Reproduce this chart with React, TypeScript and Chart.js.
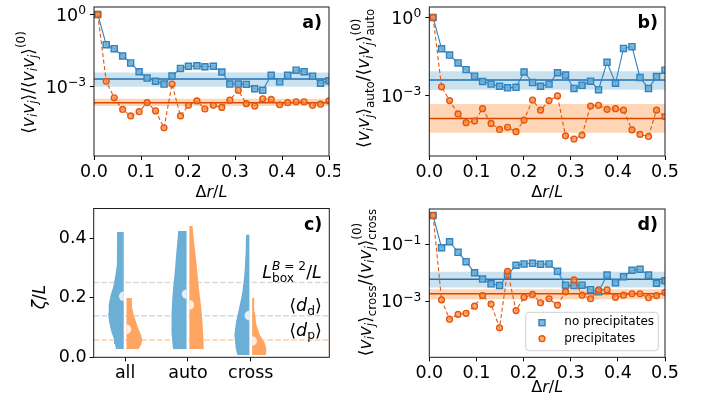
import React, { useEffect, useRef } from "react";
import { Chart, registerables } from "chart.js";
Chart.register(...registerables);

// ---------------- data ----------------
const DR = [0.008, 0.026, 0.043, 0.061, 0.078, 0.096, 0.113, 0.131, 0.149, 0.166, 0.184, 0.201, 0.219, 0.236, 0.254, 0.272, 0.289, 0.307, 0.324, 0.342, 0.359, 0.377, 0.395, 0.412, 0.43, 0.447, 0.465, 0.482, 0.5];
const X_TICKS = [0, 0.1, 0.2, 0.3, 0.4, 0.5];

const A_NOPREC = [1, 5.6e-2, 3.8e-2, 1.9e-2, 9.8e-3, 4.2e-3, 2.3e-3, 1.7e-3, 1.3e-3, 2.8e-3, 5.8e-3, 7.1e-3, 7.4e-3, 6.8e-3, 7.1e-3, 4.1e-3, 1.3e-3, 1.3e-3, 1.26e-3, 8.3e-4, 7.2e-4, 3.0e-3, 1.6e-3, 3.0e-3, 4.9e-3, 4.2e-3, 2.75e-3, 1.4e-3, 1.8e-3];
const A_PREC = [1, 1.7e-3, 3.5e-4, 1.15e-4, 6.2e-5, 9.3e-5, 2.2e-4, 1.0e-4, 2.0e-5, 1.3e-3, 6.2e-5, 1.7e-4, 2.6e-4, 1.2e-4, 1.7e-4, 1.4e-4, 2.8e-4, 7.2e-4, 2.0e-4, 1.6e-4, 3.2e-4, 3.0e-4, 1.8e-4, 2.2e-4, 2.4e-4, 2.4e-4, 1.7e-4, 1.9e-4, 2.6e-4];
const A_NOPREC_BAND = [1.0e-3, 2.1e-3, 3.9e-3]; // low, mean, high
const A_PREC_BAND = [1.6e-4, 2.2e-4, 3.2e-4];
const A_Y_RANGE = [1.35e-6, 2.04];
const A_Y_TICKS = [1, 1e-3];
const A_Y_EXP = ["0", "\u22123"];

const B_NOPREC = [1, 6.3e-2, 3.6e-2, 1.8e-2, 1.0e-2, 5.6e-3, 3.5e-3, 2.8e-3, 2.3e-3, 2.0e-3, 2.1e-3, 8.1e-3, 3.2e-3, 2.3e-3, 2.8e-3, 7.6e-3, 6.2e-3, 1.9e-3, 2.5e-3, 3.6e-3, 1.7e-3, 1.9e-2, 3.0e-3, 6.5e-2, 7.6e-2, 5.0e-3, 1.9e-3, 5.4e-3, 9.5e-3];
const B_PREC = [1, 2.2e-3, 6.5e-4, 2.0e-4, 9.3e-5, 1.07e-4, 3.2e-4, 8.7e-5, 5.1e-5, 6.2e-5, 4.2e-5, 1.17e-4, 6.8e-4, 2.8e-4, 6.5e-4, 9.8e-4, 2.9e-5, 2.2e-5, 3.1e-5, 4.0e-4, 4.3e-4, 3.0e-4, 3.2e-4, 2.8e-4, 4.9e-5, 3.3e-5, 2.75e-5, 2.8e-4, 1.6e-4];
const B_NOPREC_BAND = [1.7e-3, 4.0e-3, 8.7e-3];
const B_PREC_BAND = [3.8e-5, 1.35e-4, 4.8e-4];
const B_Y_RANGE = [4.9e-6, 2.51];
const B_Y_TICKS = [1, 1e-3];
const B_Y_EXP = ["0", "\u22123"];

const D_NOPREC = [1, 7.4e-2, 1.2e-1, 5.1e-2, 2.4e-2, 9.8e-3, 5.9e-3, 4.0e-3, 3.5e-3, 8.1e-3, 1.8e-2, 2.0e-2, 2.1e-2, 1.95e-2, 2.0e-2, 1.1e-2, 3.6e-3, 3.5e-3, 3.6e-3, 2.5e-3, 2.1e-3, 8.1e-3, 4.4e-3, 7.1e-3, 1.2e-2, 1.3e-2, 8.1e-3, 4.2e-3, 5.1e-3];
const D_PREC = [1, 1.1e-3, 2.3e-4, 3.4e-4, 3.7e-4, 6.6e-4, 1.55e-3, 7.8e-4, 1.15e-4, 1.1e-2, 4.6e-4, 1.35e-3, 1.7e-3, 8.7e-4, 1.2e-3, 7.2e-4, 2.1e-3, 5.5e-3, 1.6e-3, 1.2e-3, 2.45e-3, 2.45e-3, 1.35e-3, 1.6e-3, 1.8e-3, 1.8e-3, 1.3e-3, 1.55e-3, 2.0e-3];
const D_NOPREC_BAND = [3.0e-3, 5.8e-3, 1.07e-2];
const D_PREC_BAND = [1.15e-3, 1.8e-3, 2.6e-3];
const D_Y_RANGE = [1.06e-5, 1.69];
const D_Y_TICKS = [1e-1, 1e-3];
const D_Y_EXP = ["\u22121", "\u22123"];

// violin panel (c)
const CATS = ["all", "auto", "cross"];
const C_X_RANGE = [-0.5, 3.25];
const C_Y_TICKS = [0, 0.2, 0.4];
const V_ALL_NOP_Y = [0.027, 0.045, 0.06, 0.085, 0.12, 0.148, 0.176, 0.21, 0.24, 0.277, 0.31, 0.36, 0.422];
const V_ALL_NOP_W = [0.123, 0.14, 0.154, 0.196, 0.234, 0.25, 0.239, 0.207, 0.164, 0.132, 0.11, 0.107, 0.107];
const V_ALL_PRE_Y = [0.027, 0.045, 0.058, 0.075, 0.095, 0.12, 0.145, 0.17, 0.2];
const V_ALL_PRE_W = [0.191, 0.239, 0.25, 0.231, 0.191, 0.151, 0.111, 0.088, 0.084];
const V_AUTO_NOP_Y = [0.027, 0.08, 0.15, 0.22, 0.28, 0.35, 0.425];
const V_AUTO_NOP_W = [0.215, 0.239, 0.239, 0.22, 0.191, 0.164, 0.132];
const V_AUTO_PRE_Y = [0.027, 0.05, 0.1, 0.16, 0.22, 0.27, 0.33, 0.38, 0.441];
const V_AUTO_PRE_W = [0.228, 0.228, 0.215, 0.194, 0.159, 0.135, 0.107, 0.08, 0.051];
const V_CROSS_NOP_Y = [0.008, 0.03, 0.075, 0.12, 0.165, 0.22, 0.277, 0.35, 0.413];
const V_CROSS_NOP_W = [0.191, 0.218, 0.239, 0.212, 0.164, 0.111, 0.08, 0.06, 0.053];
const V_CROSS_PRE_Y = [0.008, 0.025, 0.047, 0.075, 0.109, 0.153, 0.2];
const V_CROSS_PRE_W = [0.218, 0.228, 0.202, 0.123, 0.068, 0.043, 0.032];
const MEDIAN_NOP = [0.205, 0.212, 0.14];
const MEDIAN_PRE = [0.094, 0.176, 0.055];
const REF_LINES = [0.251, 0.14, 0.058]; // L_box, <d_d>, <d_p>

// ---------------- style ----------------
const FAM = '"DejaVu Sans"';
const TICK = 17.5;
const NONE = "rgba(0,0,0,0)";
const C_BLUE = "#3182bd";
const C_BLUE_FACE = "rgba(107,174,214,0.85)";
const C_BLUE_MEAN = "#2171b5";
const C_BLUE_BAND = "rgba(158,202,225,0.55)";
const C_OR = "#e6550d";
const C_OR_FACE = "rgba(253,141,60,0.7)";
const C_OR_MEAN = "#d94801";
const C_OR_BAND = "rgba(253,174,107,0.5)";
const C_VIO_BLUE = "#6baed6";
const C_VIO_OR = "#fda561";
const REF_COLORS = ["#d9d9d9", "#c6dbef", "#fdd0a2"];
const GAP = 0.022;

// ---------------- rich text ----------------
type Run = { t: string; it?: boolean; b?: boolean; s?: number; dy?: number };
type Item = Run | { stack: Run[][] };

function fnt(size: number, it?: boolean, b?: boolean) {
  return `${it ? "italic " : ""}${b ? "bold " : ""}${size}px ${FAM}`;
}
function measureItems(ctx: CanvasRenderingContext2D, items: Item[], size: number): number {
  let w = 0;
  for (const r of items) {
    if ("stack" in r) w += Math.max(...r.stack.map((rs) => measureItems(ctx, rs, size)));
    else {
      ctx.font = fnt(size * (r.s ?? 1), r.it, r.b);
      w += ctx.measureText(r.t).width;
    }
  }
  return w;
}
function drawItems(ctx: CanvasRenderingContext2D, items: Item[], x: number, y: number, size: number): number {
  let cx = x;
  for (const r of items) {
    if ("stack" in r) {
      cx += Math.max(...r.stack.map((rs) => drawItems(ctx, rs, cx, y, size)));
    } else {
      ctx.font = fnt(size * (r.s ?? 1), r.it, r.b);
      ctx.fillText(r.t, cx, y + (r.dy ?? 0) * size);
      cx += ctx.measureText(r.t).width;
    }
  }
  return cx - x;
}
function drawRich(ctx: CanvasRenderingContext2D, items: Item[], x: number, y: number, size: number, align: "left" | "center" | "right", rotate = false) {
  ctx.save();
  ctx.fillStyle = "#000";
  ctx.textAlign = "left";
  ctx.textBaseline = "alphabetic";
  ctx.translate(x, y);
  if (rotate) ctx.rotate(-Math.PI / 2);
  const w = measureItems(ctx, items, size);
  const x0 = align === "center" ? -w / 2 : align === "right" ? -w : 0;
  drawItems(ctx, items, x0, 0, size);
  ctx.restore();
}

const VIVJ: Item[] = [
  { t: "\u27e8" },
  { t: "v", it: true },
  { t: "i", it: true, s: 0.7, dy: 0.2 },
  { t: "v", it: true },
  { t: "j", it: true, s: 0.7, dy: 0.2 },
  { t: "\u27e9" },
];
const LABEL_A: Item[] = [...VIVJ, { t: "/" }, ...VIVJ, { t: "(0)", s: 0.7, dy: -0.5 }];
const mkLabel = (w: string): Item[] => [
  ...VIVJ,
  { t: w, s: 0.7, dy: 0.3 },
  { t: "/" },
  ...VIVJ,
  { stack: [[{ t: "(0)", s: 0.7, dy: -0.55 }], [{ t: w, s: 0.7, dy: 0.3 }]] },
];
const LABEL_B = mkLabel("auto");
const LABEL_D = mkLabel("cross");
const LABEL_C: Item[] = [{ t: "\u03b6", it: true }, { t: "/" }, { t: "L", it: true }];
const X_LABEL: Item[] = [{ t: "\u0394" }, { t: "r", it: true }, { t: "/" }, { t: "L", it: true }];
const ANN_LBOX: Item[] = [
  { t: "L", it: true },
  { stack: [[{ t: "B", it: true, s: 0.7, dy: -0.45 }, { t: " = 2", s: 0.7, dy: -0.45 }], [{ t: "box", s: 0.7, dy: 0.22 }]] },
  { t: "/" },
  { t: "L", it: true },
];
const ANN_DD: Item[] = [{ t: "\u27e8" }, { t: "d", it: true }, { t: "d", s: 0.7, dy: 0.2 }, { t: "\u27e9" }];
const ANN_DP: Item[] = [{ t: "\u27e8" }, { t: "d", it: true }, { t: "p", s: 0.7, dy: 0.2 }, { t: "\u27e9" }];

// ---------------- layout ----------------
type Area = { l: number; r: number; t: number; b: number };
type Box = { ox: number; oy: number; w: number; h: number };
const W = 707;
const H = 403;
const YW = 44; // width reserved for the y scale box (tick labels are clipped to it)
const XH = 30;
const BOX_A: Box = { ox: 0, oy: 0, w: 340, h: 203 };
const BOX_B: Box = { ox: 340, oy: 0, w: 367, h: 203 };
const BOX_C: Box = { ox: 0, oy: 203, w: 340, h: 200 };
const BOX_D: Box = { ox: 340, oy: 203, w: 367, h: 200 };
const padFor = (a: Area, p: Box) => ({ left: a.l - p.ox - YW, right: p.ox + p.w - a.r, top: a.t - p.oy, bottom: p.oy + p.h - a.b - XH });

const zeroPad = (s: any) => { s.paddingTop = 0; s.paddingBottom = 0; s.paddingLeft = 0; s.paddingRight = 0; };
const fitX = (s: any) => { s.height = XH; zeroPad(s); };
const fitY = (s: any) => { s.width = YW; zeroPad(s); };

const gridOpts = { drawOnChartArea: false, drawTicks: true, tickLength: 4, color: "#000", lineWidth: 1 };

function xScaleLinear() {
  return {
    type: "linear",
    min: X_TICKS[0],
    max: X_TICKS[X_TICKS.length - 1],
    afterFit: fitX,
    afterBuildTicks: (s: any) => { s.ticks = X_TICKS.map((v) => ({ value: v })); },
    grid: gridOpts,
    border: { display: false },
    ticks: { autoSkip: false, maxRotation: 0, padding: 2, color: "#000", font: { size: TICK, family: FAM }, callback: (v: any) => Number(v).toFixed(1) },
  };
}
function yScaleLog(range: number[], ticks: number[]) {
  return {
    type: "logarithmic",
    min: range[0],
    max: range[1],
    afterFit: fitY,
    afterBuildTicks: (s: any) => { s.ticks = ticks.map((v) => ({ value: v })); },
    grid: gridOpts,
    border: { display: false },
    ticks: { display: false },
  };
}

function seriesDatasets(nop: number[], pre: number[], nb: number[], pb: number[]) {
  const x0 = X_TICKS[0];
  const x1 = X_TICKS[X_TICKS.length - 1];
  return [
    { data: [{ x: x0, y: nb[2] }, { x: x1, y: nb[2] }], fill: { value: nb[0] }, backgroundColor: C_BLUE_BAND, borderColor: NONE, borderWidth: 0, pointRadius: 0, order: 10 },
    { data: [{ x: x0, y: pb[2] }, { x: x1, y: pb[2] }], fill: { value: pb[0] }, backgroundColor: C_OR_BAND, borderColor: NONE, borderWidth: 0, pointRadius: 0, order: 11 },
    { data: [{ x: x0, y: nb[1] }, { x: x1, y: nb[1] }], fill: false, backgroundColor: NONE, borderColor: C_BLUE_MEAN, borderWidth: 1.5, pointRadius: 0, order: 8 },
    { data: [{ x: x0, y: pb[1] }, { x: x1, y: pb[1] }], fill: false, backgroundColor: NONE, borderColor: C_OR_MEAN, borderWidth: 1.5, pointRadius: 0, order: 9 },
    {
      data: DR.map((x, i) => ({ x, y: nop[i] })), fill: false, backgroundColor: NONE, borderColor: C_BLUE, borderWidth: 1.1,
      pointStyle: "rect", pointRadius: 4.3, pointBackgroundColor: C_BLUE_FACE, pointBorderColor: C_BLUE, pointBorderWidth: 1.4, order: 2, clip: 0,
    },
    {
      data: DR.map((x, i) => ({ x, y: pre[i] })), fill: false, backgroundColor: NONE, borderColor: C_OR, borderWidth: 1.1, borderDash: [4, 2.5],
      pointStyle: "circle", pointRadius: 2.9, pointBackgroundColor: C_OR_FACE, pointBorderColor: C_OR, pointBorderWidth: 1.4, order: 1, clip: 0,
    },
  ];
}

function frame(chart: any) {
  const { ctx, chartArea: a } = chart;
  ctx.save();
  ctx.strokeStyle = "#1a1a1a";
  ctx.lineWidth = 1;
  ctx.strokeRect(a.left, a.top, a.right - a.left, a.bottom - a.top);
  ctx.restore();
}
function letter(chart: any, s: string) {
  const { ctx, chartArea: a } = chart;
  ctx.save();
  ctx.fillStyle = "#000";
  ctx.font = fnt(TICK, false, true);
  ctx.textAlign = "right";
  ctx.textBaseline = "alphabetic";
  ctx.fillText(s, a.right - 7, a.top + 21);
  ctx.restore();
}
function logTickLabels(chart: any, ticks: number[], exps: string[]) {
  const { ctx, chartArea: a } = chart;
  const y = chart.scales.y;
  ticks.forEach((v, i) => {
    const py = y.getPixelForValue(v);
    drawRich(ctx, [{ t: "10" }, { t: exps[i], s: 0.7, dy: -0.39 }], a.left - 8, py + 0.3645 * TICK, TICK, "right");
  });
}

// yPos / xLabelY are given in page coordinates and shifted into the panel's canvas
function decor(box: Box, opts: { letter: string; yLabel: Item[]; yPos: [number, number]; xLabelY?: number; log?: [number[], string[]]; extra?: (c: any) => void }) {
  return {
    id: "decor",
    beforeDatasetsDraw(chart: any) {
      const { ctx, chartArea: a } = chart;
      ctx.save();
      ctx.fillStyle = "#ffffff";
      ctx.fillRect(a.left, a.top, a.right - a.left, a.bottom - a.top);
      ctx.restore();
    },
    afterDraw(chart: any) {
      const { ctx, chartArea: a } = chart;
      if (opts.extra) opts.extra(chart);
      frame(chart);
      letter(chart, opts.letter);
      drawRich(ctx, opts.yLabel, opts.yPos[0] - box.ox, opts.yPos[1] - box.oy, 17, "center", true);
      if (opts.xLabelY !== undefined) drawRich(ctx, X_LABEL, (a.left + a.right) / 2, opts.xLabelY - box.oy, 16, "center");
      if (opts.log) logTickLabels(chart, opts.log[0], opts.log[1]);
    },
  };
}

function seriesChart(canvas: HTMLCanvasElement, box: Box, area: Area, nop: number[], pre: number[], nb: number[], pb: number[], range: number[], yt: number[], plugin: any) {
  return new Chart(canvas, {
    type: "line",
    data: { datasets: seriesDatasets(nop, pre, nb, pb) as any },
    options: {
      responsive: false,
      animation: false,
      devicePixelRatio: 1,
      events: [],
      layout: { padding: padFor(area, box) },
      plugins: { legend: { display: false }, tooltip: { enabled: false } },
      scales: { x: xScaleLinear() as any, y: yScaleLog(range, yt) as any },
    },
    plugins: [plugin],
  });
}

// half violin: outline points, filled horizontally to the category centre (indexAxis 'y')
function violin(center: number, side: number, ys: number[], ws: number[], color: string) {
  const x0 = center + side * GAP;
  return {
    data: ys.map((y, i) => ({ x: x0 + side * ws[i], y })),
    fill: { value: x0 },
    backgroundColor: color, borderColor: NONE, borderWidth: 0, pointRadius: 0, tension: 0, order: 5,
  };
}

function legendD(chart: any) {
  const { ctx } = chart;
  ctx.save();
  ctx.translate(-BOX_D.ox, -BOX_D.oy);
  const bx = 525.7, by = 312.3, bw = 132.6, bh = 38.4;
  ctx.beginPath();
  ctx.roundRect(bx, by, bw, bh, 3);
  ctx.fillStyle = "rgba(255,255,255,0.8)";
  ctx.fill();
  ctx.strokeStyle = "#d0d0d0";
  ctx.lineWidth = 1;
  ctx.stroke();
  ctx.fillStyle = C_BLUE_FACE;
  ctx.strokeStyle = C_BLUE;
  ctx.lineWidth = 1.4;
  ctx.fillRect(539, 319.7, 6, 6);
  ctx.strokeRect(539, 319.7, 6, 6);
  ctx.beginPath();
  ctx.arc(542, 338.7, 2.9, 0, Math.PI * 2);
  ctx.fillStyle = C_OR_FACE;
  ctx.fill();
  ctx.strokeStyle = C_OR;
  ctx.stroke();
  ctx.fillStyle = "#000";
  ctx.font = fnt(12);
  ctx.textAlign = "left";
  ctx.textBaseline = "alphabetic";
  ctx.fillText("no precipitates", 564.3, 324.8);
  ctx.fillText("precipitates", 564.3, 341.8);
  ctx.restore();
}

function violinExtras(chart: any) {
  const { ctx, chartArea: a } = chart;
  const xs = chart.scales.x;
  const ys = chart.scales.y;
  ctx.save();
  ctx.fillStyle = "rgba(255,255,255,0.8)";
  CATS.forEach((_, i) => {
    const xb = xs.getPixelForValue(i - GAP);
    const yb = ys.getPixelForValue(MEDIAN_NOP[i]);
    ctx.beginPath();
    ctx.moveTo(xb, yb - 4.8);
    ctx.arc(xb, yb, 4.8, -Math.PI / 2, Math.PI / 2, true);
    ctx.closePath();
    ctx.fill();
    const xo = xs.getPixelForValue(i + GAP);
    const yo = ys.getPixelForValue(MEDIAN_PRE[i]);
    ctx.beginPath();
    ctx.moveTo(xo, yo - 4.8);
    ctx.arc(xo, yo, 4.8, -Math.PI / 2, Math.PI / 2, false);
    ctx.closePath();
    ctx.fill();
  });
  ctx.restore();
  const anns = [ANN_LBOX, ANN_DD, ANN_DP];
  anns.forEach((it, i) => {
    drawRich(ctx, it, a.right - 7.5, ys.getPixelForValue(REF_LINES[i]) - 4.5, 17.5, "right");
  });
}

function violinChart(canvas: HTMLCanvasElement, box: Box, area: Area) {
  const ds: any[] = [
    violin(0, -1, V_ALL_NOP_Y, V_ALL_NOP_W, C_VIO_BLUE),
    violin(0, 1, V_ALL_PRE_Y, V_ALL_PRE_W, C_VIO_OR),
    violin(1, -1, V_AUTO_NOP_Y, V_AUTO_NOP_W, C_VIO_BLUE),
    violin(1, 1, V_AUTO_PRE_Y, V_AUTO_PRE_W, C_VIO_OR),
    violin(2, -1, V_CROSS_NOP_Y, V_CROSS_NOP_W, C_VIO_BLUE),
    violin(2, 1, V_CROSS_PRE_Y, V_CROSS_PRE_W, C_VIO_OR),
    ...REF_LINES.map((v, i) => ({
      data: [{ x: C_X_RANGE[0], y: v }, { x: C_X_RANGE[1], y: v }],
      fill: false, backgroundColor: NONE, borderColor: REF_COLORS[i], borderWidth: 1.5, borderDash: [5.5, 2.4], pointRadius: 0, order: 20,
    })),
  ];
  return new Chart(canvas, {
    type: "line",
    data: { datasets: ds },
    options: {
      indexAxis: "y",
      responsive: false,
      animation: false,
      devicePixelRatio: 1,
      events: [],
      layout: { padding: padFor(area, box) },
      plugins: { legend: { display: false }, tooltip: { enabled: false } },
      scales: {
        x: {
          type: "linear", position: "bottom", min: C_X_RANGE[0], max: C_X_RANGE[1],
          afterFit: fitX,
          afterBuildTicks: (s: any) => { s.ticks = CATS.map((_, i) => ({ value: i })); },
          grid: gridOpts as any, border: { display: false },
          ticks: { autoSkip: false, maxRotation: 0, padding: 2, color: "#000", font: { size: TICK, family: FAM }, callback: (v: any) => CATS[Math.round(Number(v))] },
        } as any,
        y: {
          type: "linear", position: "left", min: 0, max: 0.5,
          afterFit: fitY,
          afterBuildTicks: (s: any) => { s.ticks = C_Y_TICKS.map((v) => ({ value: v })); },
          grid: gridOpts as any, border: { display: false },
          ticks: { padding: 3, color: "#000", font: { size: TICK, family: FAM }, callback: (v: any) => Number(v).toFixed(1) },
        } as any,
      },
    },
    plugins: [decor(box, { letter: "c)", yLabel: LABEL_C, yPos: [44.5, 297], extra: violinExtras })],
  });
}

export default function App() {
  const ra = useRef<HTMLCanvasElement>(null);
  const rb = useRef<HTMLCanvasElement>(null);
  const rc = useRef<HTMLCanvasElement>(null);
  const rd = useRef<HTMLCanvasElement>(null);
  useEffect(() => {
    Chart.defaults.font.family = FAM;
    Chart.defaults.color = "#000";
    const charts = [
      seriesChart(ra.current!, BOX_A, { l: 94, r: 329, t: 7, b: 156 }, A_NOPREC, A_PREC, A_NOPREC_BAND, A_PREC_BAND, A_Y_RANGE, A_Y_TICKS,
        decor(BOX_A, { letter: "a)", yLabel: LABEL_A, yPos: [33.5, 82.5], xLabelY: 197.3, log: [A_Y_TICKS, A_Y_EXP] })),
      seriesChart(rb.current!, BOX_B, { l: 429.3, r: 665, t: 7, b: 156 }, B_NOPREC, B_PREC, B_NOPREC_BAND, B_PREC_BAND, B_Y_RANGE, B_Y_TICKS,
        decor(BOX_B, { letter: "b)", yLabel: LABEL_B, yPos: [369.3, 78.3], xLabelY: 197.3, log: [B_Y_TICKS, B_Y_EXP] })),
      violinChart(rc.current!, BOX_C, { l: 93.7, r: 329.3, t: 208.5, b: 357.3 }),
      seriesChart(rd.current!, BOX_D, { l: 429.3, r: 665, t: 209, b: 357.3 }, D_NOPREC, D_PREC, D_NOPREC_BAND, D_PREC_BAND, D_Y_RANGE, D_Y_TICKS,
        decor(BOX_D, { letter: "d)", yLabel: LABEL_D, yPos: [370.5, 282.5], xLabelY: 392, log: [D_Y_TICKS, D_Y_EXP], extra: legendD })),
    ];
    return () => charts.forEach((c) => c.destroy());
  }, []);
  const cv = (b: Box): React.CSSProperties => ({ position: "absolute", left: b.ox, top: b.oy, width: b.w, height: b.h });
  return (
    <div style={{ position: "absolute", left: 0, top: 0, width: W, height: H, background: "#fff", overflow: "hidden" }}>
      <canvas ref={ra} width={BOX_A.w} height={BOX_A.h} style={cv(BOX_A)} />
      <canvas ref={rb} width={BOX_B.w} height={BOX_B.h} style={cv(BOX_B)} />
      <canvas ref={rc} width={BOX_C.w} height={BOX_C.h} style={cv(BOX_C)} />
      <canvas ref={rd} width={BOX_D.w} height={BOX_D.h} style={cv(BOX_D)} />
    </div>
  );
}
